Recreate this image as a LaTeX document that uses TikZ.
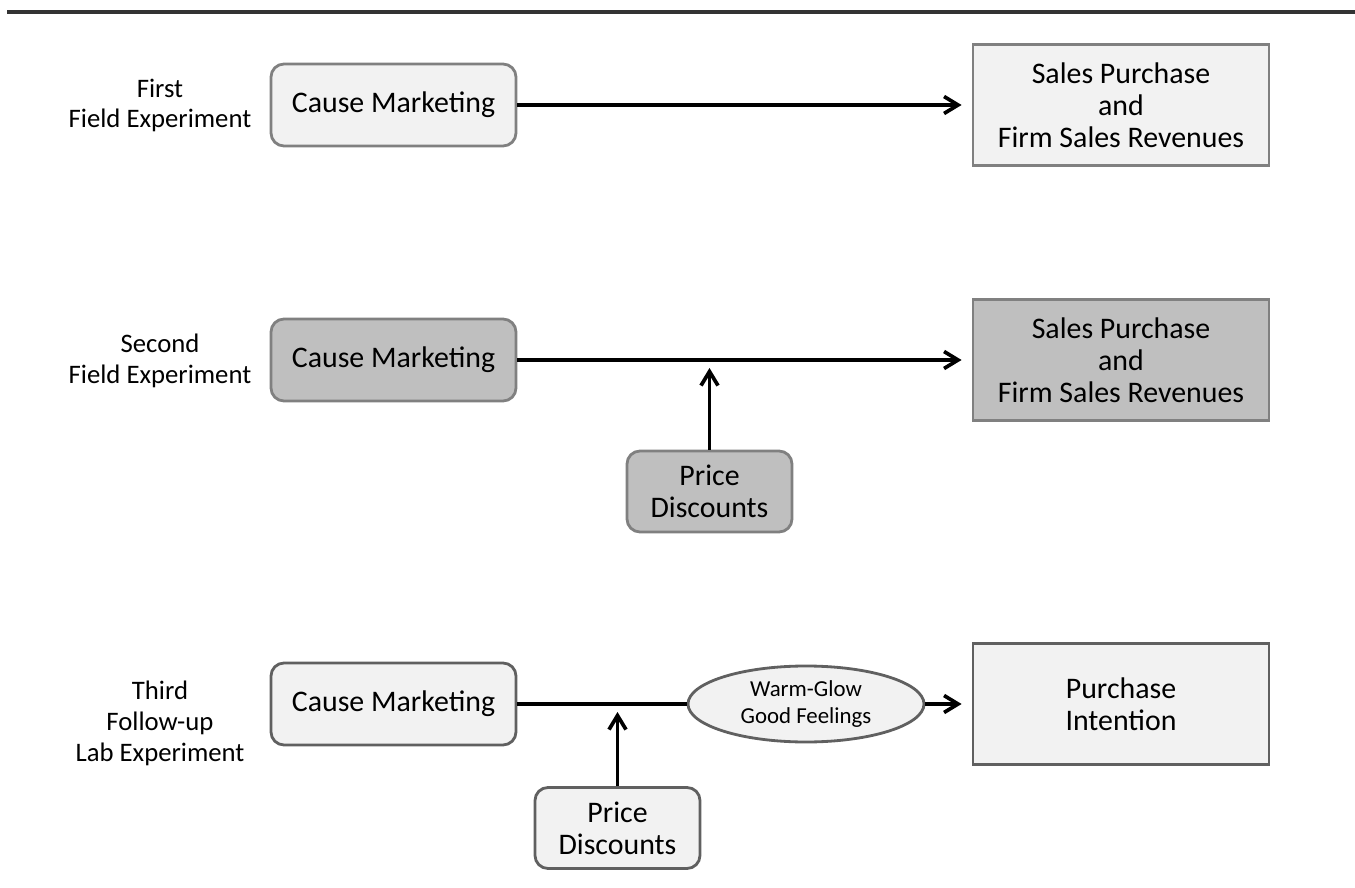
\documentclass[tikz,border=0pt]{standalone}
\usepackage{fontspec}
\setmainfont{Carlito}
\usepackage{xcolor}
\usetikzlibrary{arrows.meta, positioning, shapes.geometric}

\definecolor{boxlight}{HTML}{F2F2F2}
\definecolor{boxdark}{HTML}{BFBFBF}
\definecolor{edgegray}{HTML}{808080}
\definecolor{edgedark}{HTML}{606060}

\begin{document}
\begin{tikzpicture}[>={Straight Barb[length=2.8mm, width=3.4mm]},
			link/.style={line width=2.1pt, draw=black},
			rbox/.style={draw=edgegray, line width=1.6pt, rounded corners=0.26cm, minimum width=4.9cm, minimum height=1.64cm, inner sep=0pt, align=center, font=\fontsize{17}{18.2}\selectfont},
			pbox/.style={rbox, minimum width=3.3cm, minimum height=1.62cm},
			sbox/.style={draw=edgegray, line width=1.6pt, minimum width=5.92cm, minimum height=2.42cm, inner sep=0pt, align=center, font=\fontsize{17}{18.2}\selectfont},
			lbl/.style={align=center, font=\fontsize{15.2}{17.6}\selectfont}]

			\useasboundingbox (0,0) rectangle (27.1,-17.76);
			\draw[line width=2pt, black!80] (0.14,-0.24) -- (27.1,-0.24);

			\node[lbl] (lab1) at (3.2,-2.11) {First\\Field Experiment};
			\node[rbox, fill=boxlight] (cm1) at (7.87,-2.1) {Cause Marketing};
			\node[sbox, fill=boxlight] (sp1) at (22.42,-2.1) {Sales Purchase\\and\\Firm Sales Revenues};
			\draw[link, ->, shorten >=0.2cm] (cm1) -- (sp1);

			\node[lbl] (lab2) at (3.2,-7.22) {Second\\Field Experiment};
			\node[rbox, fill=boxdark] (cm2) at (7.87,-7.2) {Cause Marketing};
			\node[sbox, fill=boxdark] (sp2) at (22.42,-7.2) {Sales Purchase\\and\\Firm Sales Revenues};
			\node[pbox, fill=boxdark] (pd2) at (14.19,-9.83) {Price\\Discounts};
			\coordinate (t2) at (14.19,-7.36);
			\draw[link, ->, shorten >=0.2cm] (cm2) -- (sp2);
			\draw[link, ->] (pd2) -- (t2);

			\node[lbl] (lab3) at (3.2,-14.46) {Third\\Follow-up\\Lab Experiment};
			\node[rbox, fill=boxlight, draw=edgedark] (cm3) at (7.87,-14.08) {Cause Marketing};
			\node[ellipse, draw=edgedark, fill=boxlight, line width=1.6pt, minimum width=4.72cm, minimum height=1.52cm, inner sep=0pt, align=center, font=\fontsize{13}{15}\selectfont] (wg) at (16.12,-14.08) {Warm-Glow\\Good Feelings};
			\node[sbox, fill=boxlight, draw=edgedark] (pi) at (22.42,-14.08) {Purchase\\Intention};
			\node[pbox, fill=boxlight, draw=edgedark] (pd3) at (12.35,-16.56) {Price\\Discounts};
			\coordinate (t3) at (12.35,-14.24);
			\draw[link] (cm3) -- (wg);
			\draw[link, ->, shorten >=0.2cm] (wg) -- (pi);
			\draw[link, ->] (pd3) -- (t3);
		\end{tikzpicture}
\end{document}
